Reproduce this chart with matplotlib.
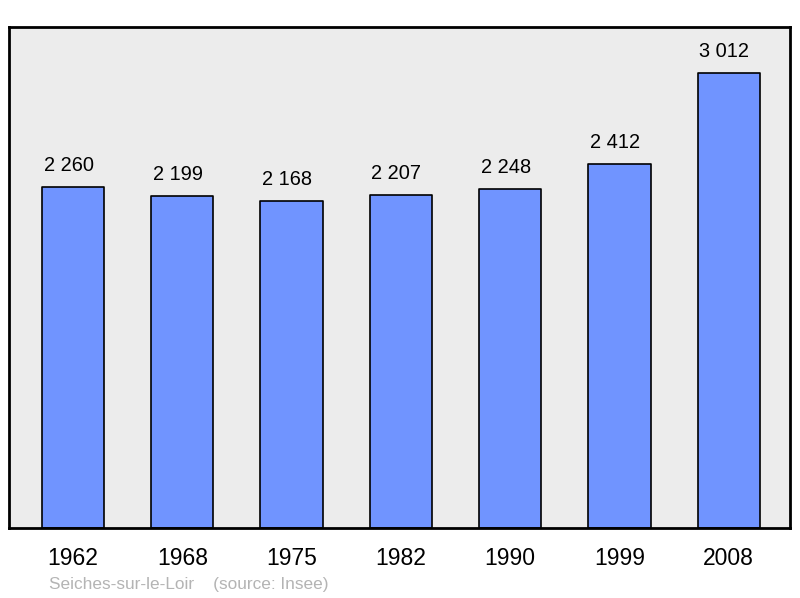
import matplotlib.pyplot as plt

years = ["1962", "1968", "1975", "1982", "1990", "1999", "2008"]
population = [2260, 2199, 2168, 2207, 2248, 2412, 3012]
value_labels = ["2 260", "2 199", "2 168", "2 207", "2 248", "2 412", "3 012"]

plt.rcParams["font.family"] = ["Liberation Sans", "DejaVu Sans"]

fig = plt.figure(figsize=(8, 5.98), dpi=100)
ax = fig.add_axes([9 / 800, 70 / 598, 781 / 800, 501 / 598])
ax.set_facecolor("#ececec")

xs = range(len(years))
ax.bar(xs, population, width=0.57, color="#7094ff", edgecolor="black",
       linewidth=1.2, joinstyle="round")

# labels sit a little left of the bar centre in the original
for x, v, lab in zip(xs, population, value_labels):
    ax.text(x - 0.04, v + 80, lab, ha="center", va="bottom", fontsize=14.4)

ax.set_xlim(-0.585, 6.56)
ax.set_ylim(0, 3320)
ax.set_xticks(list(xs))
ax.set_xticklabels(years, fontsize=16.5)
ax.tick_params(axis="x", length=0, pad=14)
ax.set_yticks([])
for s in ax.spines.values():
    s.set_linewidth(2)

fig.text(49 / 800, 1 - 585 / 598, "Seiches-sur-le-Loir    (source: Insee)",
         color="#b4b4b4", fontsize=12.4, va="center")

fig.savefig("out.png", dpi=100)
